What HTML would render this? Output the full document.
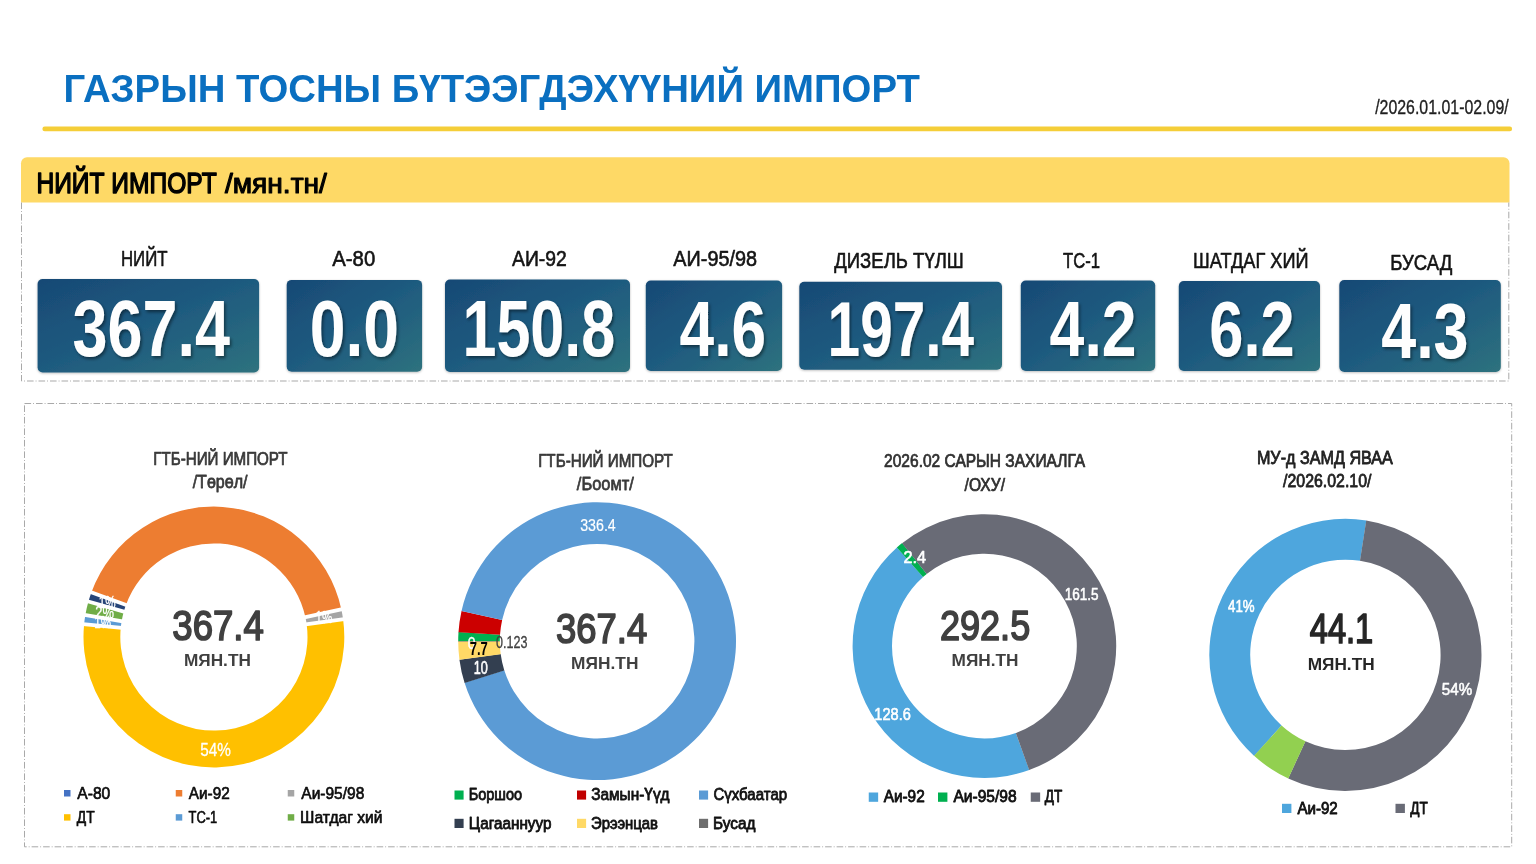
<!DOCTYPE html>
<html lang="mn"><head><meta charset="utf-8"><title>Газрын тосны бүтээгдэхүүний импорт</title>
<style>
html,body{margin:0;padding:0;background:#fff}
body{width:1536px;height:864px;overflow:hidden;font-family:"Liberation Sans", sans-serif}
svg{display:block;font-family:"Liberation Sans", sans-serif}
.num{filter:url(#ts)}
.dash{fill:none;stroke:#a9a9a9;stroke-width:1;stroke-dasharray:6.6 2 0.9 2}
</style></head><body>
<svg width="1536" height="864" viewBox="0 0 1536 864" role="img" aria-label="Газрын тосны бүтээгдэхүүний импорт">
<defs>
<linearGradient id="cg" x1="0" y1="0" x2="1" y2="1"><stop offset="0" stop-color="#174975"/><stop offset="0.5" stop-color="#1F5B7F"/><stop offset="1" stop-color="#2E727E"/></linearGradient>
<filter id="ts" x="-5%" y="-10%" width="115%" height="130%"><feDropShadow dx="2" dy="2.2" stdDeviation="1.7" flood-color="#000" flood-opacity="0.45"/></filter>
<filter id="cs" x="-5%" y="-10%" width="110%" height="125%"><feDropShadow dx="0" dy="0.8" stdDeviation="0.9" flood-color="#000" flood-opacity="0.28"/></filter>
</defs>
<!-- header -->
<g id="header"><line x1="44.7" y1="128.9" x2="1509.8" y2="128.9" stroke="#F5CE38" stroke-width="4.6" stroke-linecap="round"/>
<path d="M21 202.5V163.3a6 6 0 0 1 6-6H1503.5a6 6 0 0 1 6 6V202.5Z" fill="#FED966"/></g>
<!-- dashed frames -->
<g id="frames"><path class="dash" d="M21.5 202.5V381H1508.8V202.5"/>
<rect class="dash" x="24.5" y="403.5" width="1487.2" height="443.3"/></g>
<!-- cards -->
<g id="cards" filter="url(#cs)"><rect x="37.6" y="279.1" width="221.50" height="93.30" rx="5" fill="url(#cg)"/><rect x="286.7" y="279.9" width="135.40" height="91.80" rx="5" fill="url(#cg)"/><rect x="445" y="279.5" width="185.00" height="92.50" rx="5" fill="url(#cg)"/><rect x="645.8" y="280.5" width="136.30" height="90.50" rx="5" fill="url(#cg)"/><rect x="799.3" y="281.7" width="202.70" height="88.10" rx="5" fill="url(#cg)"/><rect x="1020.8" y="280.6" width="134.40" height="90.40" rx="5" fill="url(#cg)"/><rect x="1178.8" y="281" width="141.20" height="90.00" rx="5" fill="url(#cg)"/><rect x="1339.3" y="280" width="161.50" height="92.00" rx="5" fill="url(#cg)"/></g>
<!-- donuts -->
<g id="charts">
<g id="c1"><path d="M91.36 592.40A130.4 130.4 0 0 1 341.32 609.27L305.36 617.10A93.6 93.6 0 0 0 125.94 604.99Z" fill="#ED7D31"/><path d="M341.32 609.27A130.4 130.4 0 0 1 343.10 619.37L306.64 624.34A93.6 93.6 0 0 0 305.36 617.10Z" fill="#A5A5A5"/><path d="M343.10 619.37A130.4 130.4 0 1 1 84.12 624.28L120.75 627.87A93.6 93.6 0 1 0 306.64 624.34Z" fill="#FFC000"/><path d="M84.12 624.28A130.4 130.4 0 0 1 85.37 615.00L121.64 621.21A93.6 93.6 0 0 0 120.75 627.87Z" fill="#5B9BD5"/><path d="M85.37 615.00A130.4 130.4 0 0 1 88.42 601.52L123.83 611.53A93.6 93.6 0 0 0 121.64 621.21Z" fill="#70AD47"/><path d="M88.42 601.52A130.4 130.4 0 0 1 91.36 592.40L125.94 604.99A93.6 93.6 0 0 0 123.83 611.53Z" fill="#264478"/><line x1="90.42" y1="592.06" x2="126.88" y2="605.33" stroke="#fff" stroke-width="3.8"/><line x1="342.29" y1="609.06" x2="304.38" y2="617.31" stroke="#fff" stroke-width="3.8"/><line x1="344.09" y1="619.23" x2="305.65" y2="624.48" stroke="#fff" stroke-width="3.8"/><line x1="83.13" y1="624.18" x2="121.74" y2="627.96" stroke="#fff" stroke-width="3.8"/><line x1="84.38" y1="614.83" x2="122.63" y2="621.38" stroke="#fff" stroke-width="3.8"/><line x1="87.46" y1="601.25" x2="124.79" y2="611.81" stroke="#fff" stroke-width="3.8"/></g>
<g id="c2"><path d="M458.20 641.20A138.9 138.9 0 0 1 458.50 632.05L500.01 634.79A97.3 97.3 0 0 0 499.80 641.20Z" fill="#00B050"/><path d="M458.49 632.17A138.9 138.9 0 0 1 461.55 610.89L502.15 619.97A97.3 97.3 0 0 0 500.01 634.87Z" fill="#CC0000"/><path d="M461.52 611.01A138.9 138.9 0 1 1 464.58 682.81L504.27 670.35A97.3 97.3 0 1 0 502.13 620.05Z" fill="#5B9BD5"/><path d="M464.62 682.93A138.9 138.9 0 0 1 459.43 659.63L500.66 654.11A97.3 97.3 0 0 0 504.29 670.43Z" fill="#333F50"/><path d="M459.44 659.75A138.9 138.9 0 0 1 458.20 641.37L499.80 641.32A97.3 97.3 0 0 0 500.67 654.19Z" fill="#FFD966"/><path d="M458.20 641.49A138.9 138.9 0 0 1 458.20 641.08L499.80 641.12A97.3 97.3 0 0 0 499.80 641.40Z" fill="#767171"/></g>
<g id="c3"><path d="M1029.26 770.03A131.8 131.8 0 0 1 896.94 547.50L923.09 576.97A92.4 92.4 0 0 0 1015.85 732.98Z" fill="#4EA6DD"/><path d="M896.85 547.58A131.8 131.8 0 0 1 902.14 543.12L926.73 573.91A92.4 92.4 0 0 0 923.03 577.03Z" fill="#00B050"/><path d="M902.05 543.20A131.8 131.8 0 1 1 1029.15 770.07L1015.78 733.01A92.4 92.4 0 1 0 926.67 573.96Z" fill="#696B76"/></g>
<g id="c4"><path d="M1254.15 755.88A136.1 136.1 0 0 1 1366.34 520.42L1360.05 560.83A95.2 95.2 0 0 0 1281.58 725.54Z" fill="#4EA6DD"/><path d="M1366.22 520.40A136.1 136.1 0 1 1 1288.20 778.40L1305.39 741.29A95.2 95.2 0 1 0 1359.96 560.82Z" fill="#696B76"/><path d="M1288.31 778.45A136.1 136.1 0 0 1 1254.07 755.80L1281.51 725.48A95.2 95.2 0 0 0 1305.47 741.32Z" fill="#92D050"/></g>
</g>
<!-- legend markers -->
<g id="legend-markers"><rect x="64" y="790" width="6.50" height="6.50" fill="#4472C4"/><rect x="175.75" y="790" width="6.50" height="6.50" fill="#ED7D31"/><rect x="287.75" y="790" width="6.50" height="6.50" fill="#A5A5A5"/><rect x="64" y="814.2" width="6.50" height="6.40" fill="#FFC000"/><rect x="175.75" y="814.2" width="6.50" height="6.40" fill="#5B9BD5"/><rect x="287.75" y="814.2" width="6.50" height="6.40" fill="#70AD47"/><rect x="454.5" y="790.5" width="9.10" height="9.10" fill="#00B050"/><rect x="577" y="790.5" width="9.10" height="9.10" fill="#C00000"/><rect x="699" y="790.5" width="9.10" height="9.10" fill="#5B9BD5"/><rect x="454.5" y="818.8" width="9.10" height="9.20" fill="#333F50"/><rect x="577" y="818.8" width="9.10" height="9.20" fill="#FFD966"/><rect x="699" y="818.8" width="9.10" height="9.20" fill="#6E6E6E"/><rect x="868.75" y="792.5" width="9.40" height="9.30" fill="#4EA6DD"/><rect x="938" y="792.5" width="9.40" height="9.30" fill="#00B050"/><rect x="1030.75" y="792.5" width="9.40" height="9.30" fill="#696B76"/><rect x="1282" y="803.8" width="9.40" height="9.20" fill="#4EA6DD"/><rect x="1395.5" y="803.8" width="9.40" height="9.20" fill="#696B76"/></g>
<!-- text -->
<g id="labels" style="opacity:.999" stroke-linejoin="round">
<text transform="matrix(0.9838 0 0 1 63.60 101.90)" font-size="38.97" fill="#0A6FC0" font-weight="700">ГАЗРЫН ТОСНЫ БҮТЭЭГДЭХҮҮНИЙ ИМПОРТ</text>
<text transform="matrix(0.7911 0 0 1 1375.14 114.33)" font-size="20.12" fill="#1f1f1f" stroke="#1f1f1f" stroke-width="0.35">/2026.01.01-02.09/</text>
<text transform="matrix(0.8179 0 0 1 36.39 193.10)" font-size="30.08" fill="#000" stroke="#000" stroke-width="1.5">НИЙТ ИМПОРТ</text>
<text transform="matrix(1.0495 0 0 1 224.88 193.30)" font-size="26.82" fill="#000" stroke="#000" stroke-width="1.1">/мян.тн/</text>
<text transform="matrix(0.7787 0 0 1 120.92 265.95)" font-size="21.62" fill="#141414" stroke="#141414" stroke-width="0.6">НИЙТ</text>
<text transform="matrix(0.9404 0 0 1 332.28 265.95)" font-size="21.62" fill="#141414" stroke="#141414" stroke-width="0.6">А-80</text>
<text transform="matrix(0.8945 0 0 1 512.02 266.10)" font-size="21.62" fill="#141414" stroke="#141414" stroke-width="0.6">АИ-92</text>
<text transform="matrix(0.9178 0 0 1 673.28 266.45)" font-size="21.62" fill="#141414" stroke="#141414" stroke-width="0.6">АИ-95/98</text>
<text transform="matrix(0.8570 0 0 1 834.26 267.60)" font-size="21.62" fill="#141414" stroke="#141414" stroke-width="0.6">ДИЗЕЛЬ ТҮЛШ</text>
<text transform="matrix(0.7696 0 0 1 1062.97 267.60)" font-size="21.62" fill="#141414" stroke="#141414" stroke-width="0.6">ТС-1</text>
<text transform="matrix(0.8364 0 0 1 1193.08 267.90)" font-size="21.76" fill="#141414" stroke="#141414" stroke-width="0.6">ШАТДАГ ХИЙ</text>
<text transform="matrix(0.8646 0 0 1 1390.21 270.30)" font-size="21.48" fill="#141414" stroke="#141414" stroke-width="0.6">БУСАД</text>
<text transform="matrix(0.7968 0 0 1 72.52 356.30)" font-size="78.93" fill="#fff" font-weight="700" class="num">367.4</text>
<text transform="matrix(0.8139 0 0 1 309.79 356.30)" font-size="78.93" fill="#fff" font-weight="700" class="num">0.0</text>
<text transform="matrix(0.7738 0 0 1 462.43 356.30)" font-size="78.93" fill="#fff" font-weight="700" class="num">150.8</text>
<text transform="matrix(0.7921 0 0 1 679.60 356.00)" font-size="78.51" fill="#fff" font-weight="700" class="num">4.6</text>
<text transform="matrix(0.7459 0 0 1 827.59 356.00)" font-size="78.51" fill="#fff" font-weight="700" class="num">197.4</text>
<text transform="matrix(0.7982 0 0 1 1049.60 355.90)" font-size="78.36" fill="#fff" font-weight="700" class="num">4.2</text>
<text transform="matrix(0.7806 0 0 1 1209.33 356.40)" font-size="78.51" fill="#fff" font-weight="700" class="num">6.2</text>
<text transform="matrix(0.8001 0 0 1 1381.25 358.40)" font-size="78.51" fill="#fff" font-weight="700" class="num">4.3</text>
<text transform="matrix(0.8505 0 0 1 153.23 465.32)" font-size="17.85" fill="#3a3a3a" stroke="#3a3a3a" stroke-width="0.75">ГТБ-НИЙ ИМПОРТ</text>
<text transform="matrix(0.9009 0 0 1 192.64 488.32)" font-size="17.85" fill="#3a3a3a" stroke="#3a3a3a" stroke-width="0.75">/Төрөл/</text>
<text transform="matrix(0.8592 0 0 1 538.13 466.52)" font-size="17.71" fill="#3a3a3a" stroke="#3a3a3a" stroke-width="0.75">ГТБ-НИЙ ИМПОРТ</text>
<text transform="matrix(0.9070 0 0 1 576.84 489.62)" font-size="18.13" fill="#3a3a3a" stroke="#3a3a3a" stroke-width="0.75">/Боомт/</text>
<text transform="matrix(0.8703 0 0 1 884.10 467.12)" font-size="17.85" fill="#303030" stroke="#303030" stroke-width="0.75">2026.02 САРЫН ЗАХИАЛГА</text>
<text transform="matrix(0.8667 0 0 1 964.62 490.62)" font-size="17.99" fill="#303030" stroke="#303030" stroke-width="0.75">/ОХУ/</text>
<text transform="matrix(0.9027 0 0 1 1256.90 464.30)" font-size="17.92" fill="#222" stroke="#222" stroke-width="0.8">МУ-д ЗАМД ЯВАА</text>
<text transform="matrix(0.8747 0 0 1 1283.05 487.10)" font-size="18.20" fill="#222" stroke="#222" stroke-width="0.8">/2026.02.10/</text>
<text transform="matrix(0.8491 0 0 1 172.33 639.95)" font-size="43.09" fill="#404040" stroke="#404040" stroke-width="1.7">367.4</text>
<text transform="matrix(0.9942 0 0 1 183.92 666.00)" font-size="17.35" fill="#404040" font-weight="700">МЯН.ТН</text>
<text transform="matrix(0.8458 0 0 1 555.98 643.25)" font-size="43.09" fill="#404040" stroke="#404040" stroke-width="1.7">367.4</text>
<text transform="matrix(0.9988 0 0 1 571.12 668.60)" font-size="17.35" fill="#404040" font-weight="700">МЯН.ТН</text>
<text transform="matrix(0.8404 0 0 1 939.92 639.75)" font-size="42.95" fill="#404040" stroke="#404040" stroke-width="1.7">292.5</text>
<text transform="matrix(0.9942 0 0 1 951.62 665.80)" font-size="17.35" fill="#404040" font-weight="700">МЯН.ТН</text>
<text transform="matrix(0.7651 0 0 1 1309.74 643.35)" font-size="42.67" fill="#262626" stroke="#262626" stroke-width="1.7">44.1</text>
<text transform="matrix(0.9950 0 0 1 1307.67 670.20)" font-size="17.35" fill="#262626" font-weight="700">МЯН.ТН</text>
<text transform="matrix(0.8487 0 0 1 200.15 755.85)" font-size="18.06" fill="#fff" stroke="#fff" stroke-width="0.3">54%</text>
<text transform="matrix(0.8378 0 0 1 580.14 530.80)" font-size="17.00" fill="#fff" stroke="#fff" stroke-width="0.2">336.4</text>
<text transform="matrix(0.7299 0 0 1 495.97 648.45)" font-size="17.21" fill="#404040" stroke="#404040" stroke-width="0.3">0.123</text>
<text transform="matrix(0.8172 0 0 1 467.73 648.60)" font-size="17.07" fill="#fff" stroke="#fff" stroke-width="0.4">0</text>
<text transform="matrix(0.7458 0 0 1 469.69 654.80)" font-size="17.49" fill="#000" font-weight="700">7.7</text>
<text transform="matrix(0.7232 0 0 1 473.83 674.20)" font-size="17.49" fill="#fff" stroke="#fff" stroke-width="0.6">10</text>
<text transform="matrix(0.9645 0 0 1 903.52 562.50)" font-size="16.92" fill="#fff" stroke="#fff" stroke-width="0.6">2.4</text>
<text transform="matrix(0.8008 0 0 1 1064.64 599.70)" font-size="16.92" fill="#fff" stroke="#fff" stroke-width="0.6">161.5</text>
<text transform="matrix(0.8615 0 0 1 874.35 720.20)" font-size="16.92" fill="#fff" stroke="#fff" stroke-width="0.6">128.6</text>
<text transform="matrix(0.8062 0 0 1 1228.03 612.40)" font-size="16.50" fill="#fff" stroke="#fff" stroke-width="0.6">41%</text>
<text transform="matrix(0.8790 0 0 1 1441.79 695.45)" font-size="17.28" fill="#fff" stroke="#fff" stroke-width="0.6">54%</text>
<text transform="matrix(0.6897 0 0 1 98.87 608.45)" font-size="16.92" fill="#fff" stroke="#fff" stroke-width="0.3">1%</text>
<text transform="matrix(0.7671 0 0 1 95.21 618.05)" font-size="16.92" fill="#fff" stroke="#fff" stroke-width="0.3">2%</text>
<text transform="matrix(0.6897 0 0 1 94.37 627.85)" font-size="16.92" fill="#fff" stroke="#fff" stroke-width="0.3">1%</text>
<text transform="matrix(0.6897 0 0 1 315.57 623.45)" font-size="16.92" fill="#fff" stroke="#fff" stroke-width="0.3">1%</text>
<text transform="matrix(0.9895 0 0 1 77.32 798.92)" font-size="15.79" fill="#0d0d0d" stroke="#0d0d0d" stroke-width="0.65">А-80</text>
<text transform="matrix(0.9721 0 0 1 188.82 798.92)" font-size="15.79" fill="#0d0d0d" stroke="#0d0d0d" stroke-width="0.65">Аи-92</text>
<text transform="matrix(0.9825 0 0 1 301.32 798.92)" font-size="15.79" fill="#0d0d0d" stroke="#0d0d0d" stroke-width="0.65">Аи-95/98</text>
<text transform="matrix(0.8810 0 0 1 76.79 822.92)" font-size="15.79" fill="#0d0d0d" stroke="#0d0d0d" stroke-width="0.65">ДТ</text>
<text transform="matrix(0.8179 0 0 1 188.56 822.92)" font-size="15.79" fill="#0d0d0d" stroke="#0d0d0d" stroke-width="0.65">ТС-1</text>
<text transform="matrix(0.9906 0 0 1 300.10 822.92)" font-size="15.79" fill="#0d0d0d" stroke="#0d0d0d" stroke-width="0.65">Шатдаг хий</text>
<text transform="matrix(0.8922 0 0 1 468.72 800.10)" font-size="16.28" fill="#111" stroke="#111" stroke-width="0.8">Боршоо</text>
<text transform="matrix(0.9475 0 0 1 591.15 800.10)" font-size="16.28" fill="#111" stroke="#111" stroke-width="0.8">Замын-Үүд</text>
<text transform="matrix(0.9233 0 0 1 713.41 800.10)" font-size="16.28" fill="#111" stroke="#111" stroke-width="0.8">Сүхбаатар</text>
<text transform="matrix(0.9586 0 0 1 468.69 828.85)" font-size="15.93" fill="#111" stroke="#111" stroke-width="0.8">Цагааннуур</text>
<text transform="matrix(0.9354 0 0 1 590.93 828.85)" font-size="15.93" fill="#111" stroke="#111" stroke-width="0.8">Эрээнцав</text>
<text transform="matrix(0.9660 0 0 1 712.93 828.85)" font-size="15.93" fill="#111" stroke="#111" stroke-width="0.8">Бусад</text>
<text transform="matrix(0.9661 0 0 1 883.64 802.10)" font-size="15.93" fill="#111" stroke="#111" stroke-width="0.8">Аи-92</text>
<text transform="matrix(0.9793 0 0 1 953.39 802.10)" font-size="15.93" fill="#111" stroke="#111" stroke-width="0.8">Аи-95/98</text>
<text transform="matrix(0.8553 0 0 1 1044.84 802.10)" font-size="15.93" fill="#111" stroke="#111" stroke-width="0.8">ДТ</text>
<text transform="matrix(0.9485 0 0 1 1297.38 813.60)" font-size="15.93" fill="#111" stroke="#111" stroke-width="0.8">Аи-92</text>
<text transform="matrix(0.8553 0 0 1 1410.34 813.60)" font-size="15.93" fill="#111" stroke="#111" stroke-width="0.8">ДТ</text>
</g>
</svg>
</body></html>
